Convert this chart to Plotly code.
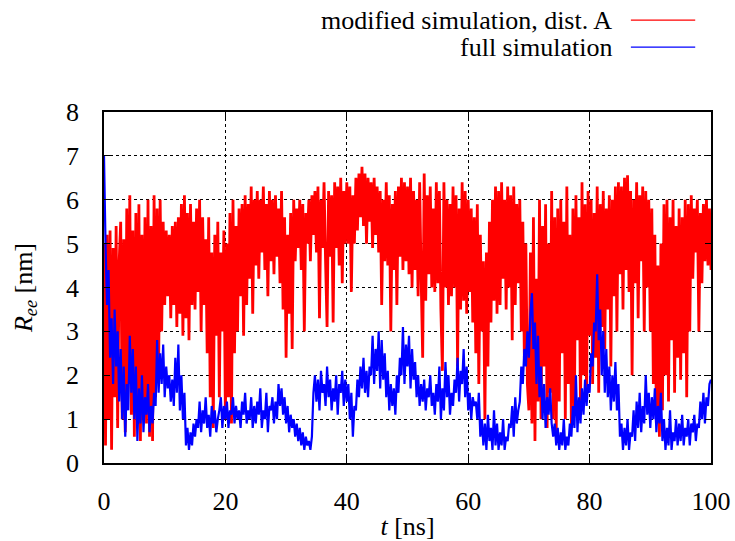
import numpy as np
import plotly.graph_objects as go

# modified simulation, dist. A  (R_ee in nm), sampled every 0.25 ns, rows of 5 ns
red_ree = [
    5.0, 0.4, 5.2, 1.0, 5.3, 0.3, 4.9, 1.5, 5.4, 0.8, 4.6, 5.5, 1.0, 5.1, 0.7, 5.8, 1.8, 6.1, 1.1, 5.3,
    0.6, 5.7, 1.0, 5.9, 0.5, 5.2, 1.2, 5.6, 0.9, 6.0, 0.6, 5.4, 0.5, 6.1, 1.5, 5.8, 2.2, 6.0, 3.0, 5.5,
    3.6, 5.3, 3.8, 5.2, 3.3, 5.4, 3.6, 5.5, 3.1, 5.6, 3.4, 5.9, 2.9, 6.1, 3.3, 5.7, 2.8, 5.9, 3.6, 5.5,
    3.5, 5.8, 3.9, 6.0, 3.0, 5.6, 3.6, 5.1, 2.5, 5.6, 1.5, 4.8, 0.8, 5.2, 2.9, 5.5, 1.5, 4.8, 3.0, 5.3,
    1.0, 5.0, 1.5, 5.7, 0.9, 6.0, 2.5, 5.4, 3.0, 5.8, 3.8, 5.9, 2.9, 6.1, 3.6, 5.9, 4.2, 6.3, 3.4, 6.0,
    4.5, 6.2, 4.2, 6.0, 4.8, 6.3, 4.4, 5.9, 3.8, 6.2, 4.6, 6.0, 4.3, 6.1, 4.7, 5.8, 4.1, 6.2, 3.5, 5.6,
    2.4, 5.2, 3.4, 5.7, 2.6, 6.0, 4.6, 5.8, 4.9, 6.0, 4.4, 5.9, 3.0, 5.7, 5.0, 6.0, 4.6, 6.1, 5.2, 6.2,
    4.8, 6.3, 3.3, 6.0, 4.9, 6.4, 4.6, 3.1, 6.2, 4.7, 6.1, 3.2, 6.4, 4.9, 6.3, 4.5, 6.5, 4.1, 6.2, 5.0,
    6.4, 5.0, 6.3, 3.9, 6.1, 5.0, 6.5, 5.3, 6.6, 5.6, 6.75, 5.4, 6.6, 5.0, 6.5, 5.5, 6.4, 4.9, 6.5, 5.2,
    6.3, 4.8, 6.2, 3.6, 6.0, 4.6, 6.4, 4.5, 6.1, 3.0, 5.9, 4.4, 6.2, 3.6, 6.3, 4.7, 6.5, 4.4, 6.4, 4.6,
    6.3, 4.3, 6.5, 4.0, 6.2, 4.4, 6.0, 3.8, 6.4, 4.2, 2.4, 6.6, 3.7, 6.1, 4.3, 6.3, 4.0, 5.8, 3.9, 6.4,
    4.1, 6.2, 3.5, 2.1, 6.4, 4.0, 6.0, 3.6, 5.9, 3.8, 6.3, 4.0, 6.1, 2.2, 5.8, 3.5, 6.4, 3.7, 6.2, 3.4,
    6.0, 3.9, 5.8, 3.2, 5.6, 2.5, 5.9, 1.8, 5.2, 3.0, 4.6, 1.0, 4.8, 2.2, 5.5, 3.2, 6.0, 3.7, 6.3, 3.4,
    6.2, 3.6, 6.4, 4.2, 6.0, 3.5, 6.3, 4.0, 6.1, 2.8, 6.3, 3.6, 5.9, 4.1, 6.0, 3.0, 5.5, 2.4, 5.0, 1.8,
    1.2, 4.8, 0.9, 5.6, 0.5, 4.2, 1.4, 6.0, 1.0, 5.4, 2.2, 5.9, 0.8, 5.0, 1.6, 6.2, 1.0, 5.6, 0.7, 5.8,
    1.4, 6.0, 2.5, 5.5, 1.0, 6.3, 1.8, 5.2, 0.8, 5.8, 1.3, 6.1, 2.8, 5.6, 1.1, 6.4, 2.0, 5.9, 1.4, 6.2,
    2.9, 6.0, 1.8, 5.7, 2.4, 6.3, 1.6, 5.9, 3.1, 6.2, 2.6, 5.8, 3.5, 6.1, 2.2, 6.0, 3.8, 6.3, 3.0, 6.4,
    4.3, 6.3, 3.5, 6.5, 4.4, 6.56, 3.9, 6.2, 2.0, 6.0, 4.1, 6.4, 3.3, 6.1, 4.6, 6.3, 3.0, 6.2, 4.0, 6.0,
    3.0, 5.8, 1.8, 5.2, 0.9, 4.5, 0.6, 5.0, 1.2, 5.9, 2.0, 6.0, 1.4, 5.6, 2.8, 6.0, 1.6, 5.4, 2.4, 5.8,
    1.9, 5.6, 2.5, 6.0, 1.5, 5.9, 3.0, 6.1, 4.2, 5.8, 4.8, 6.0, 3.0, 5.7, 4.1, 5.9, 4.6, 6.0, 4.5, 5.8,
    4.4,
]

# full simulation (R_ee in nm), sampled every 0.25 ns, rows of 5 ns
blue_ree = [
    7.0, 5.0, 3.6, 4.4, 2.4, 3.3, 1.8, 3.5, 2.2, 3.0, 1.4, 2.6, 1.0, 2.2, 0.6, 1.8, 1.2, 2.9, 1.6, 2.6,
    1.0, 2.2, 0.5, 1.7, 0.9, 2.0, 0.7, 1.5, 1.1, 1.8, 0.7, 1.3, 0.9, 1.6, 1.3, 2.8, 1.6, 2.5, 1.8, 2.7,
    1.5, 2.2, 1.7, 2.0, 1.4, 1.9, 1.3, 2.4, 1.6, 2.7, 1.2, 2.0, 1.0, 1.6, 0.4, 0.8, 0.3, 0.7, 0.4, 0.9,
    0.6, 1.0, 0.8, 1.4, 0.7, 1.2, 0.9, 1.5, 0.8, 1.1, 0.6, 1.3, 0.9, 1.2, 0.7, 1.0, 1.2, 1.5, 0.8, 1.3,
    1.0, 1.4, 0.8, 1.2, 1.1, 1.5, 0.9, 1.3, 1.0, 1.2, 0.8, 1.4, 1.1, 1.6, 0.9, 1.2, 1.0, 1.5, 0.8, 1.3,
    0.9, 1.4, 1.1, 1.7, 0.8, 1.2, 1.0, 1.6, 0.7, 1.3, 1.2, 1.5, 0.9, 1.4, 1.0, 1.8, 1.3, 1.7, 1.1, 1.5,
    0.9, 1.3, 0.7, 1.1, 0.8, 1.0, 0.6, 0.9, 0.5, 0.8, 0.4, 0.7, 0.3, 0.6, 0.4, 0.5, 0.3, 0.6, 1.6, 2.0,
    1.4, 1.9, 1.2, 2.1, 1.6, 1.8, 1.3, 2.2, 1.5, 1.9, 1.2, 1.7, 1.4, 2.0, 1.1, 1.8, 1.6, 2.1, 1.3, 1.9,
    1.4, 1.8, 1.0, 1.6, 0.6, 1.3, 1.2, 1.9, 1.5, 2.2, 1.7, 2.4, 1.6, 2.1, 1.5, 2.2, 2.0, 2.9, 1.8, 2.6,
    2.1, 3.0, 1.7, 2.8, 1.9, 2.5, 1.5, 2.1, 1.2, 1.8, 1.3, 1.7, 1.1, 2.0, 1.6, 2.4, 2.0, 3.1, 1.8, 2.7,
    2.2, 2.9, 1.7, 2.6, 1.9, 2.3, 1.5, 2.0, 1.3, 1.8, 1.4, 1.9, 1.2, 1.7, 1.5, 2.0, 1.3, 1.6, 1.1, 1.8,
    1.4, 2.2, 1.0, 1.7, 1.2, 2.3, 1.5, 2.0, 1.1, 1.6, 1.3, 1.9, 1.6, 2.4, 1.4, 2.1, 1.8, 2.6, 1.5, 2.2,
    1.2, 1.6, 1.0, 1.5, 1.3, 1.4, 1.0, 1.6, 0.6, 1.0, 0.4, 0.9, 0.3, 1.1, 0.5, 0.8, 0.3, 1.2, 0.4, 0.9,
    0.3, 0.7, 0.4, 1.0, 0.3, 0.6, 0.5, 0.9, 0.8, 1.3, 0.6, 1.5, 0.9, 1.2, 1.4, 2.2, 1.8, 2.6, 2.2, 3.0,
    2.4, 3.4, 3.87, 2.6, 3.2, 1.8, 2.9, 1.5, 2.2, 1.0, 1.8, 0.8, 1.5, 1.1, 1.7, 0.9, 0.6, 0.9, 0.4, 0.8,
    0.3, 0.7, 0.4, 1.0, 0.3, 0.6, 0.4, 0.9, 0.6, 1.3, 0.8, 2.0, 0.7, 1.5, 0.9, 1.7, 1.1, 1.9, 1.3, 1.8,
    1.6, 2.5, 2.2, 3.2, 3.0, 4.3, 2.8, 3.5, 2.0, 3.0, 1.6, 2.6, 1.5, 2.2, 1.2, 2.0, 1.4, 2.3, 1.2, 1.8,
    0.6, 0.9, 0.3, 0.8, 0.4, 1.0, 0.3, 0.7, 0.6, 1.2, 0.5, 1.4, 0.8, 1.6, 0.7, 1.3, 0.9, 2.0, 1.1, 1.6,
    0.8, 1.5, 1.0, 1.7, 0.7, 1.3, 0.9, 1.6, 0.5, 1.0, 0.3, 0.8, 0.4, 1.2, 0.3, 0.7, 0.5, 1.0, 0.4, 0.9,
    0.5, 1.1, 0.4, 0.8, 0.6, 1.0, 0.4, 0.9, 0.7, 1.1, 0.5, 0.9, 0.8, 1.4, 1.0, 1.6, 0.9, 1.5, 1.3, 1.8,
    1.9,
]

series_names = ["modified simulation, dist. A", "full simulation"]
series_colors = ["#ff0000", "#0000ff"]
series_widths = [2.8, 2.2]
x_ticks = [0, 20, 40, 60, 80, 100]
y_ticks = [0, 1, 2, 3, 4, 5, 6, 7, 8]

FONT = "'Liberation Serif', 'Times New Roman', serif"
FS = 26

fig = go.Figure()
for vals, name, col, w in zip([red_ree, blue_ree], series_names, series_colors, series_widths):
    t_ns = np.linspace(0, 100, len(vals))
    fig.add_trace(go.Scatter(x=t_ns, y=vals, mode="lines", name=name,
                             line=dict(color=col, width=w, simplify=False),
                             showlegend=False))

# gnuplot-style key: text right-aligned, sample line to the right
key_y = [1.262, 1.185]
for name, col, ky in zip(series_names, series_colors, key_y):
    fig.add_annotation(xref="paper", yref="paper", x=0.84, y=ky, text=name,
                       showarrow=False, xanchor="right", yanchor="middle",
                       font=dict(family=FONT, size=FS, color="black"))
    fig.add_shape(type="line", xref="paper", yref="paper", x0=0.868, x1=0.974,
                  y0=ky, y1=ky, line=dict(color=col, width=1.3))

axis_common = dict(showline=True, linecolor="black", linewidth=1.5, mirror="ticks",
                   ticks="inside", ticklen=6, tickcolor="black", tickwidth=1,
                   showgrid=True, gridcolor="black", gridwidth=1, griddash="dot",
                   zeroline=False, automargin=False,
                   tickfont=dict(family=FONT, size=FS, color="black"))

fig.update_xaxes(range=[0, 100], tickvals=x_ticks, ticklabelstandoff=14,
                 title=dict(text="<i>t</i> [ns]", standoff=10,
                            font=dict(family=FONT, size=FS, color="black")),
                 **axis_common)
fig.update_yaxes(range=[0, 8], tickvals=y_ticks, ticklabelstandoff=18,
                 title=dict(text="<i>R</i><sub><i>ee</i></sub> [nm]", standoff=26,
                            font=dict(family=FONT, size=FS, color="black")),
                 **axis_common)

fig.update_layout(width=735, height=541, margin=dict(l=104, r=24, t=112, b=78),
                  paper_bgcolor="white", plot_bgcolor="white",
                  font=dict(family=FONT, size=FS, color="black"))

fig.write_html("out.html", config={"displayModeBar": False},
               post_script="document.body.style.margin='0px';document.body.style.overflow='hidden';")
